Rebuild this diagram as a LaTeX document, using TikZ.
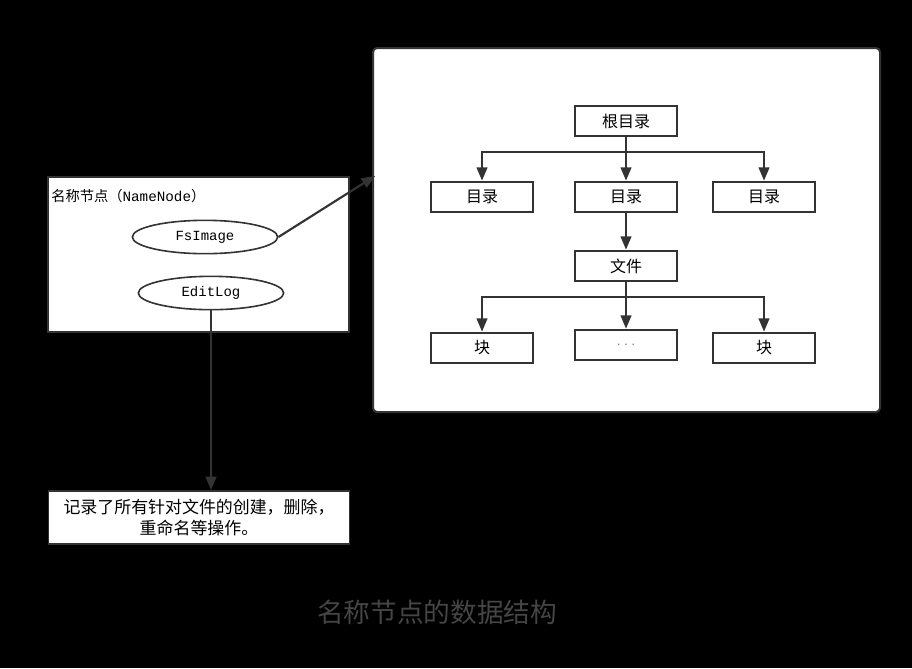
\documentclass[tikz,border=0pt]{standalone}
\usepackage{fontspec}
\setmainfont{Noto Sans CJK SC}
\newfontfamily\codefont{Liberation Mono}
\usetikzlibrary{
    arrows.meta,
    shapes.geometric,
    positioning
}
\definecolor{linegray}{HTML}{333333}
\definecolor{titlegray}{HTML}{454545}

\begin{document}
\begin{tikzpicture}[x=0.75pt, y=-0.75pt,
    treebox/.style={draw=linegray, fill=white, line width=1.5pt, inner sep=0pt,
        minimum width=77pt, minimum height=23pt, font=\fontsize{12pt}{14pt}\selectfont},
    logbox/.style={draw=linegray, fill=white, line width=1.2pt, ellipse, inner sep=0pt,
        minimum width=109pt, minimum height=25pt, font=\codefont\fontsize{10.5pt}{12pt}\selectfont},
    conn/.style={draw=linegray, line width=1.6pt, -{Triangle[length=10pt, width=8pt]}}
]
                                \fill[black] (0, 0) rectangle (912, 668);
                                \useasboundingbox (0, 0) rectangle (912, 668);
                                % name node panel
                                \draw[linegray, fill=white, line width=1.5pt] (48, 177) rectangle (349, 332);
                                \node[anchor=west, inner sep=0pt, font=\fontsize{10.7pt}{12pt}\selectfont] (nnlabel) at (51, 196)
                                    {名称节点（{\codefont NameNode}）};
                                \node[logbox] (fsimage) at (205, 237) {FsImage};
                                \node[logbox] (editlog) at (211, 293) {EditLog};
                                % directory tree panel
                                \draw[linegray, fill=white, line width=1.5pt, rounded corners=3pt] (373, 48) rectangle (880, 412);
                                \coordinate (treein) at (375, 176);
                                \node[treebox] (root) at (626, 121) {根目录};
                                \node[treebox] (dirl) at (482, 197) {目录};
                                \node[treebox] (dirm) at (626, 197) {目录};
                                \node[treebox] (dirr) at (764, 197) {目录};
                                \node[treebox] (file) at (626, 266) {文件};
                                \node[treebox] (blockl) at (482, 348) {块};
                                \node[treebox, text=gray, font=\fontsize{9pt}{10pt}\selectfont] (blockm) at (626, 345) {.\,\,.\,\,.};
                                \node[treebox] (blockr) at (764, 348) {块};
                                \draw[conn] (root.south) -- ++(0, 15) -| (dirl);
                                \draw[conn] (root.south) -- ++(0, 15) -| (dirr);
                                \draw[conn] (root) -- (dirm);
                                \draw[conn] (dirm) -- (file);
                                \draw[conn] (file.south) -- ++(0, 15) -| (blockl);
                                \draw[conn] (file.south) -- ++(0, 15) -| (blockr);
                                \draw[conn] (file) -- (blockm);
                                % edit log note
                                \node[draw=linegray, fill=white, line width=1.2pt, inner sep=0pt,
                                    minimum width=226pt, minimum height=40pt, align=center,
                                    font=\fontsize{12.7pt}{16pt}\selectfont] (note) at (199, 517.5)
                                    {记录了所有针对文件的创建，删除，\\重命名等操作。};
                                \draw[conn] (fsimage.east) -- (treein);
                                \draw[conn] (editlog.south) -- (editlog.south |- note.north);
                                \node[text=titlegray, font=\fontsize{20pt}{22pt}\selectfont] (title) at (437, 612) {名称节点的数据结构};
\end{tikzpicture}
\end{document}
